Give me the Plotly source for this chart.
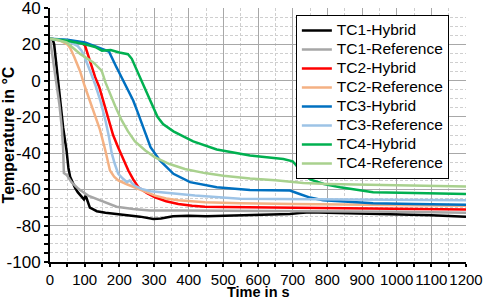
import plotly.graph_objects as go

# ---- data ----
tc1_hyb_t = [0, 8, 12, 19, 29, 38, 48, 53, 58, 65, 72, 80, 91, 98, 103, 108, 115, 125, 135, 160, 192, 230, 260, 298, 320, 355, 400, 450, 500, 550, 600, 650, 692, 720, 750, 800, 900, 1000, 1100, 1200]
tc1_hyb_T = [23, 22.5, 20, 7, -9, -26, -39, -48, -53, -56.5, -59, -61.5, -64, -65.5, -63.5, -66.5, -70, -71, -72, -72.8, -73.5, -74.5, -75, -76.3, -76, -74.8, -74.5, -74.8, -74.6, -74.5, -74.3, -74, -73.6, -73, -72.6, -72.8, -73.2, -73.6, -74.2, -75]

tc1_ref_t = [0, 5, 12, 19, 27, 34, 38, 40, 48, 62, 82, 110, 144, 192, 240, 288, 384, 500, 600, 800, 1000, 1200]
tc1_ref_T = [23, 16.5, 8, 0, -13, -26, -38, -51, -52, -56, -59.7, -63.4, -66, -69.5, -70.8, -71.6, -71.6, -71.7, -71.8, -72, -72.3, -72.8]

tc2_hyb_t = [0, 50, 90, 101, 110, 120, 130, 142, 152, 166, 182, 197, 212, 226, 240, 255, 280, 303, 335, 370, 410, 447, 500, 548, 700, 900, 1000, 1200]
tc2_hyb_T = [23, 22, 21, 19.3, 14, 8, 2, -3.5, -10, -20, -30, -37, -44, -49.6, -54.5, -58.8, -62, -64.3, -66.5, -68, -69, -69.5, -69.7, -69.8, -70.2, -70.5, -70.7, -71]

tc2_ref_t = [0, 30, 50, 58, 70, 87, 100, 115, 130, 144, 159, 173, 185, 197, 220, 245, 275, 303, 335, 370, 447, 548, 700, 900, 1200]
tc2_ref_T = [23, 22, 20, 18, 13, 5, -3, -11, -19, -27, -38, -49.6, -53, -55, -57, -58.8, -61, -63.4, -65, -66, -67, -67.6, -68, -68.5, -69]

tc3_hyb_t = [0, 50, 101, 130, 170, 190, 208, 225, 240, 252, 266, 280, 290, 317, 356, 404, 481, 577, 640, 692, 720, 750, 788, 850, 932, 1050, 1200]
tc3_hyb_T = [23, 22.5, 21, 19, 16, 8, 1, -5, -11, -17, -24, -31, -36.7, -44, -51.4, -56, -58.8, -60.3, -60.5, -60.6, -62.5, -64.5, -66, -66.8, -67.6, -68, -68.5]

tc3_ref_t = [0, 50, 80, 91, 100, 110, 120, 132, 145, 160, 170, 178, 187, 197, 210, 222, 230, 236, 245, 264, 290, 322, 370, 418, 548, 800, 1200]
tc3_ref_T = [23, 22, 19, 16.5, 13, 8, 3, -3, -11, -22, -31, -40, -46, -51.4, -54, -56, -55, -56.5, -58, -59.7, -61, -61.6, -62.5, -63.4, -65.2, -65.6, -66]

tc4_hyb_t = [0, 50, 101, 130, 150, 175, 200, 225, 236, 250, 265, 280, 295, 310, 326, 356, 413, 481, 577, 673, 700, 715, 731, 750, 790, 837, 932, 1050, 1200]
tc4_hyb_T = [23, 22, 20, 18.5, 16.5, 16.8, 15.5, 14.5, 12, 6, -1, -7, -14, -20, -24, -28, -33.5, -38, -41.3, -43.2, -44.5, -48, -51.4, -54.5, -57, -58.8, -61.6, -62, -62.5]

tc4_ref_t = [0, 20, 48, 87, 125, 149, 160, 173, 190, 207, 225, 245, 275, 303, 345, 389, 447, 500, 577, 650, 731, 800, 1000, 1200]
tc4_ref_T = [23, 22.5, 21, 14.7, 10, 5.5, -1, -7.5, -15, -22, -28, -33.5, -38.5, -42.3, -46, -48.7, -51, -52.5, -54, -55, -56.5, -57, -57.8, -58.4]

series_names = ["TC1-Hybrid", "TC1-Reference", "TC2-Hybrid", "TC2-Reference",
                "TC3-Hybrid", "TC3-Reference", "TC4-Hybrid", "TC4-Reference"]
series_colors = ["#000000", "#a6a6a6", "#ff0000", "#f4b183",
                 "#0070c0", "#9dc3e6", "#00b050", "#a9d18e"]
series_t = [tc1_hyb_t, tc1_ref_t, tc2_hyb_t, tc2_ref_t, tc3_hyb_t, tc3_ref_t, tc4_hyb_t, tc4_ref_t]
series_T = [tc1_hyb_T, tc1_ref_T, tc2_hyb_T, tc2_ref_T, tc3_hyb_T, tc3_ref_T, tc4_hyb_T, tc4_ref_T]

x_tick_vals = list(range(0, 1201, 100))
x_tick_text = [str(v) for v in x_tick_vals]
y_tick_vals = list(range(-100, 41, 20))
y_tick_text = [str(v) for v in y_tick_vals]

FONT = "Arial, Liberation Sans, sans-serif"

fig = go.Figure()
for name, col, t, T in zip(series_names, series_colors, series_t, series_T):
    fig.add_trace(go.Scatter(x=t, y=T, mode="lines",
                             name='<span style="font-size:15.5px">%s</span>' % name,
                             line=dict(color=col, width=2.5)))

fig.update_layout(
    width=484, height=302,
    margin=dict(l=50, r=18, t=8, b=40, autoexpand=False),
    paper_bgcolor="white", plot_bgcolor="white",
    font=dict(family=FONT, size=15, color="black"),
    showlegend=True,
    legend=dict(x=0.591, y=0.972, xanchor="left", yanchor="top",
                bgcolor="white", bordercolor="black", borderwidth=1,
                font=dict(size=12, family=FONT, color="black"),
                itemwidth=30, tracegroupgap=0),
    annotations=[
        dict(text="<b>Time in s</b>", xref="paper", yref="paper",
             x=0.5, y=-0.157, xanchor="center", yanchor="bottom",
             showarrow=False, font=dict(size=14.5, family=FONT, color="black")),
    ],
)
fig.update_xaxes(
    range=[0, 1200], tickvals=x_tick_vals, ticktext=x_tick_text, tickangle=0,
    automargin=False, ticklabeloverflow="allow",
    showline=True, linecolor="black", linewidth=2,
    ticks="outside", ticklen=3, tickwidth=2, tickcolor="black",
    showgrid=True, gridcolor="#a8a8a8", gridwidth=1, zeroline=False,
    minor=dict(dtick=50, showgrid=True, gridcolor="#cfcfcf", griddash="3px,2px",
               ticks="outside", ticklen=3, tickwidth=2, tickcolor="black"),
    tickfont=dict(size=15, family=FONT),
)
fig.update_yaxes(
    range=[-100, 40], tickvals=y_tick_vals, ticktext=y_tick_text,
    automargin=False, ticklabeloverflow="allow",
    showline=True, linecolor="black", linewidth=2,
    ticks="outside", ticklen=4, tickwidth=2, tickcolor="black",
    showgrid=True, gridcolor="#a8a8a8", gridwidth=1, zeroline=False,
    minor=dict(dtick=5, showgrid=True, gridcolor="#cfcfcf", griddash="3px,2px",
               ticks="outside", ticklen=4, tickwidth=2, tickcolor="black"),
    title=dict(text="<b>Temperature in °C</b>", font=dict(size=16, family=FONT), standoff=0),
    tickfont=dict(size=17, family=FONT),
)

fig.write_html("out.html", config={"displayModeBar": False},
               post_script="document.body.style.margin='0px';document.body.style.padding='0px';")
